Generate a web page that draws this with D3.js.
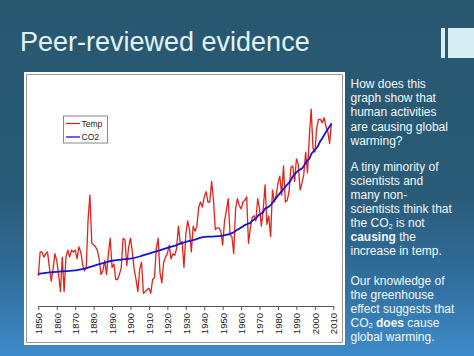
<!DOCTYPE html>
<html>
<head>
<meta charset="utf-8">
<script src="https://cdn.jsdelivr.net/npm/d3@7"></script>
<style>
html,body{margin:0;padding:0;background:#2a5a74;}
svg{display:block;font-family:"Liberation Sans",Arial,sans-serif;}
</style>
</head>
<body>
<svg id="c" width="474" height="356"></svg>
<script>
// ---- data ----
const titleText = "Peer-reviewed evidence";
const startYear = 1850;
// annual global temperature anomaly (°C), 1850–2009
const temps = [
 -0.44,-0.30,-0.30,-0.33,-0.31,-0.30,-0.39,-0.47,-0.40,-0.31,
 -0.35,-0.43,-0.53,-0.33,-0.53,-0.33,-0.29,-0.33,-0.29,-0.30,
 -0.29,-0.34,-0.27,-0.30,-0.37,-0.41,-0.39,-0.11,0.03,-0.25,
 -0.26,-0.27,-0.29,-0.34,-0.43,-0.41,-0.35,-0.43,-0.31,-0.22,
 -0.39,-0.37,-0.46,-0.46,-0.43,-0.39,-0.22,-0.23,-0.38,-0.27,
 -0.22,-0.30,-0.40,-0.46,-0.53,-0.40,-0.36,-0.54,-0.53,-0.52,
 -0.51,-0.54,-0.46,-0.45,-0.28,-0.22,-0.42,-0.48,-0.36,-0.33,
 -0.31,-0.26,-0.34,-0.31,-0.32,-0.28,-0.15,-0.25,-0.24,-0.39,
 -0.20,-0.12,-0.17,-0.30,-0.15,-0.18,-0.15,-0.04,-0.01,-0.04,
 0.02,0.05,-0.01,-0.01,0.11,0.00,-0.17,-0.16,-0.16,-0.18,
 -0.26,-0.12,-0.06,0.01,-0.20,-0.21,-0.31,-0.05,0.01,-0.03,
 -0.05,-0.01,0.00,0.02,-0.25,-0.16,-0.10,-0.09,-0.12,0.01,
 -0.05,-0.15,-0.05,0.09,-0.14,-0.09,-0.21,0.06,-0.01,0.03,
 0.10,0.14,0.03,0.20,-0.01,0.00,0.05,0.19,0.20,0.11,
 0.24,0.21,0.06,0.10,0.15,0.28,0.16,0.37,0.53,0.30,
 0.28,0.42,0.47,0.47,0.45,0.48,0.43,0.40,0.33,0.45
];
// CO2 concentration (ppm)
const co2Years = [1850,1855,1860,1865,1870,1875,1880,1885,1890,1895,1900,1905,1910,1915,1920,1925,1930,1935,1940,1945,1950,1955,
 1958,1959,1960,1961,1962,1963,1964,1965,1966,1967,1968,1969,1970,1971,1972,1973,1974,1975,1976,1977,1978,1979,
 1980,1981,1982,1983,1984,1985,1986,1987,1988,1989,1990,1991,1992,1993,1994,1995,1996,1997,1998,1999,
 2000,2001,2002,2003,2004,2005,2006,2007,2008,2009];
const co2Values = [285.2,286.1,286.6,287.2,287.7,288.9,290.7,292.6,294.2,295.0,295.7,297.1,299.1,301.0,303.0,304.9,307.0,308.6,310.5,310.7,311.3,313.0,
 315.3,316.0,316.9,317.6,318.5,319.0,319.6,320.0,321.4,322.2,323.0,324.6,325.7,326.3,327.5,329.7,330.2,331.1,332.0,333.8,335.4,336.8,
 338.7,340.1,341.5,343.1,344.7,346.1,347.4,349.2,351.6,353.1,354.4,355.6,356.4,357.1,358.8,360.8,362.6,363.7,366.7,368.4,
 369.6,371.1,373.2,375.8,377.5,379.8,381.9,383.8,385.6,387.4];
const tickYears = [1850,1860,1870,1880,1890,1900,1910,1920,1930,1940,1950,1960,1970,1980,1990,2000,2010];
const legendLabels = ["Temp","CO2"];

const para1 = ["How does this","graph show that","human activities","are causing global","warming?"];
// each line = list of [text, bold, subscript]
const para2 = [
 [["A tiny minority of"]],
 [["scientists and"]],
 [["many non-"]],
 [["scientists think that"]],
 [["the CO"],["2",false,true],[" is not"]],
 [["causing",true],[" the"]],
 [["increase in temp."]]
];
const para3 = [
 [["Our knowledge of"]],
 [["the greenhouse"]],
 [["effect suggests that"]],
 [["CO"],["2",false,true],[" "],["does",true],[" cause"]],
 [["global warming."]]
];

// ---- drawing ----
const svg = d3.select("#c");
const defs = svg.append("defs");
const g = defs.append("linearGradient").attr("id","bg").attr("x1",0).attr("y1",0).attr("x2",0).attr("y2",1);
g.append("stop").attr("offset","0%").attr("stop-color","#285870");
g.append("stop").attr("offset","55%").attr("stop-color","#2a5b78");
g.append("stop").attr("offset","80%").attr("stop-color","#3170a0");
g.append("stop").attr("offset","100%").attr("stop-color","#3f8bcb");
svg.append("rect").attr("width",474).attr("height",356).attr("fill","url(#bg)");

// title + decoration
svg.append("text").attr("x",20).attr("y",51).attr("font-size",27).attr("fill","#e2f4f8").text(titleText);
svg.append("rect").attr("x",441).attr("y",28).attr("width",4).attr("height",30).attr("fill","#d6eef4");
svg.append("rect").attr("x",448).attr("y",28).attr("width",26).attr("height",30).attr("fill","#d6eef4");

// chart panel
svg.append("rect").attr("x",24).attr("y",72).attr("width",321).attr("height",273).attr("fill","#ffffff");
svg.append("rect").attr("x",26.5).attr("y",74.5).attr("width",316).attr("height",268).attr("fill","none").attr("stroke","#9a9a9a").attr("stroke-width",1);

const x = d3.scaleLinear().domain([1850,2010]).range([38.3,333.3]);
const yT = d3.scaleLinear().domain([-0.6,0.6]).range([303.6,97]);
const yC = d3.scaleLinear().domain([280,390]).range([281.6,120.1]);

const tempData = temps.map((v,i)=>({year:startYear+i, v}));
const co2Data = co2Years.map((yr,i)=>({year:yr, v:co2Values[i]}));

svg.append("path").datum(tempData)
  .attr("fill","none").attr("stroke","#e2231c").attr("stroke-width",1.3).attr("stroke-linejoin","round")
  .attr("d", d3.line().x(d=>x(d.year)).y(d=>yT(d.v)));
svg.append("path").datum(co2Data)
  .attr("fill","none").attr("stroke","#1616cc").attr("stroke-width",1.8)
  .attr("d", d3.line().curve(d3.curveMonotoneX).x(d=>x(d.year)).y(d=>yC(d.v)));

const ax = svg.append("g").attr("transform","translate(0,306)")
  .call(d3.axisBottom(x).tickValues(tickYears).tickFormat(d3.format("d")).tickSize(4).tickSizeOuter(0));
ax.select(".domain").attr("stroke","#555");
ax.selectAll(".tick line").attr("stroke","#555");
ax.selectAll("text")
  .attr("transform","rotate(-90)").attr("x",-7).attr("y",0).attr("dy","0.35em")
  .attr("text-anchor","end").attr("font-size",9.5).attr("fill","#222")
  .attr("font-family","'Liberation Sans',Arial,sans-serif");

// legend
const lg = svg.append("g");
lg.append("rect").attr("x",63.5).attr("y",116).attr("width",44).attr("height",27).attr("fill","#fff").attr("stroke","#888");
const lcol = ["#e2231c","#1616cc"];
legendLabels.forEach((lab,i)=>{
  const yy = 123.5 + i*13.5;
  lg.append("line").attr("x1",66).attr("x2",80).attr("y1",yy).attr("y2",yy).attr("stroke",lcol[i]).attr("stroke-width",1.3);
  lg.append("text").attr("x",81.5).attr("y",yy+3).attr("font-size",8.5).attr("fill","#222").text(lab);
});

// right text
const tx = 350.5, fs = 12, fill = "#f2f8fb";
const tg = svg.append("g").attr("font-size",fs).attr("fill",fill);
para1.forEach((t,i)=>tg.append("text").attr("x",tx).attr("y",88+i*14.2).text(t));
function richLines(lines, y0, step){
  lines.forEach((parts,i)=>{
    const t = tg.append("text").attr("x",tx).attr("y",y0+i*step);
    let lowered = false;
    parts.forEach(p=>{
      const s = t.append("tspan").text(p[0]);
      if(p[1]) s.attr("font-weight","bold");
      if(p[2]) { s.attr("font-size",7.5).attr("dy",1.8); lowered = true; }
      else if(lowered) { s.attr("dy",-1.8); lowered = false; }
    });
  });
}
richLines(para2,170.5,14.1);
richLines(para3,284.5,14);
</script>
</body>
</html>
